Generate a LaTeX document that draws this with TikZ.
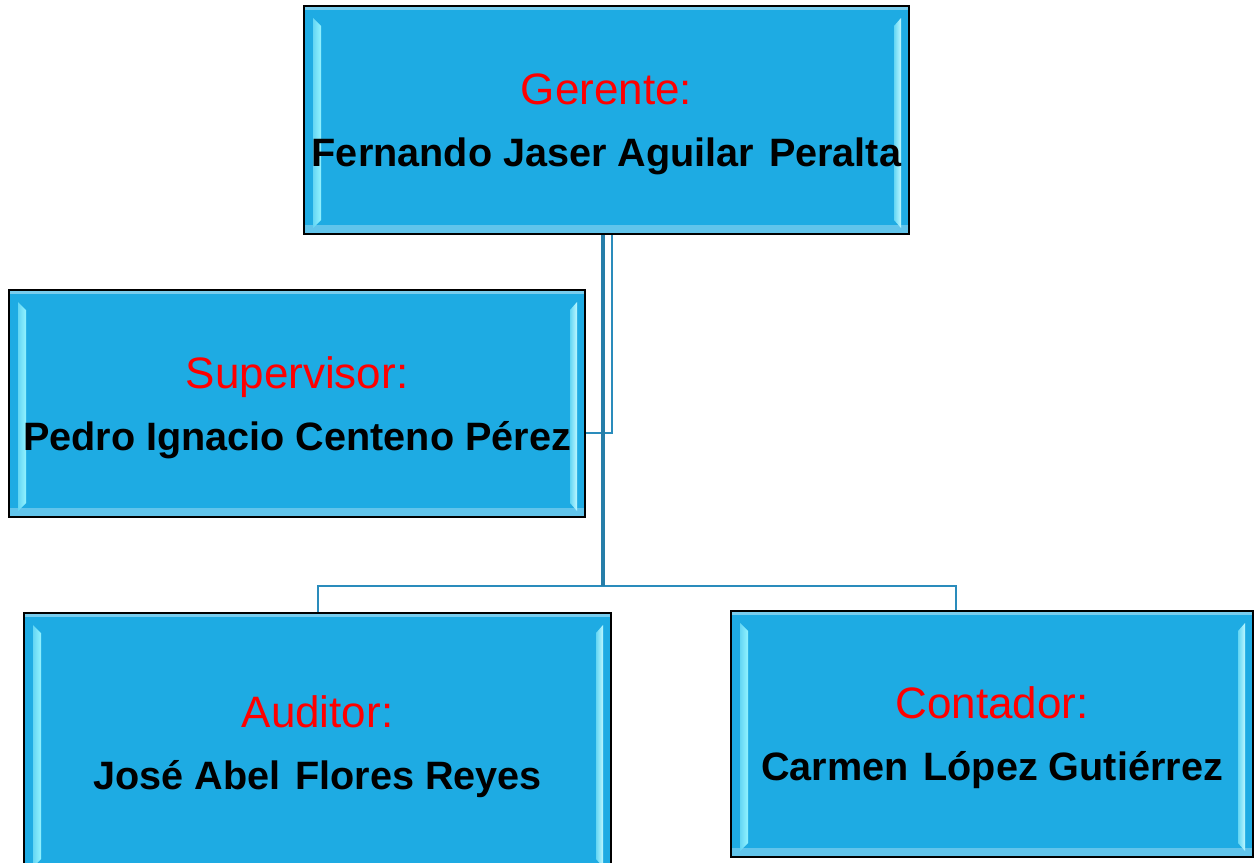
\documentclass[tikz,border=0pt]{standalone}
\usepackage{fontspec}
\setmainfont{Liberation Sans}
\usetikzlibrary{calc}

\definecolor{cajaazul}{HTML}{1EABE3}
\definecolor{brillo}{HTML}{93F3FF}
\definecolor{lineaazul}{HTML}{2A8CBC}

\newcommand{\puesto}[1]{{\color{red}\mdseries\fontsize{22}{31}\selectfont #1}}
\newcommand{\hueco}{\hspace{2pt} }

\tikzset{
  cargo/.style={draw=black, line width=1pt, fill=cajaazul, inner sep=0pt, align=center,
    text depth=0pt, font=\fontsize{19.8}{31}\selectfont\bfseries,
    path picture={
      % franjas de brillo (bisel)
      \fill[cajaazul!60!white] (path picture bounding box.north west)
        rectangle ($(path picture bounding box.north east)+(0,4)$);
      \fill[cajaazul!70!white] ($(path picture bounding box.south west)+(0,-9)$)
        rectangle (path picture bounding box.south east);
      \shade[left color=brillo!60!cajaazul, right color=brillo]
        ($(path picture bounding box.north west)+(9,12)$) -- ($(path picture bounding box.north west)+(17,20)$)
        -- ($(path picture bounding box.south west)+(17,-14)$) -- ($(path picture bounding box.south west)+(9,-6)$) -- cycle;
      \shade[left color=brillo!60!cajaazul, right color=brillo!60!white]
        ($(path picture bounding box.north east)+(-15,20)$) -- ($(path picture bounding box.north east)+(-8,12)$)
        -- ($(path picture bounding box.south east)+(-8,-6)$) -- ($(path picture bounding box.south east)+(-15,-14)$) -- cycle;
    }},
  enlace/.style={draw=lineaazul, line width=1pt},
  troncal/.style={draw=lineaazul!90!black, line width=1.7pt}
}

\begin{document}
\begin{tikzpicture}[x=0.5pt, y=-0.5pt]
\useasboundingbox (0,0) rectangle (1256,862);
\clip (0,0) rectangle (1256,862);

% cajas
\node[cargo, minimum width=302.5pt, minimum height=114pt] (gerente) at (606.5,120)
  {\puesto{Gerente:}\\Fernando Jaser Aguilar\hueco Peralta};
\node[cargo, minimum width=288pt, minimum height=113.5pt] (supervisor) at (297,403.5)
  {\puesto{Supervisor:}\\Pedro Ignacio Centeno Pérez};
\node[cargo, minimum width=293.5pt, minimum height=130pt] (auditor) at (317.5,743)
  {\puesto{Auditor:}\\José Abel\hueco Flores Reyes};
\node[cargo, minimum width=261pt, minimum height=123pt] (contador) at (992,734)
  {\puesto{Contador:}\\Carmen\hueco López Gutiérrez};

% conectores
\coordinate (cruce) at ($(gerente.south)+(-3.5,351)$);
\draw[enlace] ($(gerente.south)+(5.5,0)$) |- ($(supervisor.east)+(0,29.5)$);
\draw[enlace] (auditor.north) |- (cruce) -| ($(contador.north)+(-36,0)$);
\draw[troncal] ($(gerente.south)+(-3.5,0)$) -- (cruce);
\end{tikzpicture}
\end{document}
